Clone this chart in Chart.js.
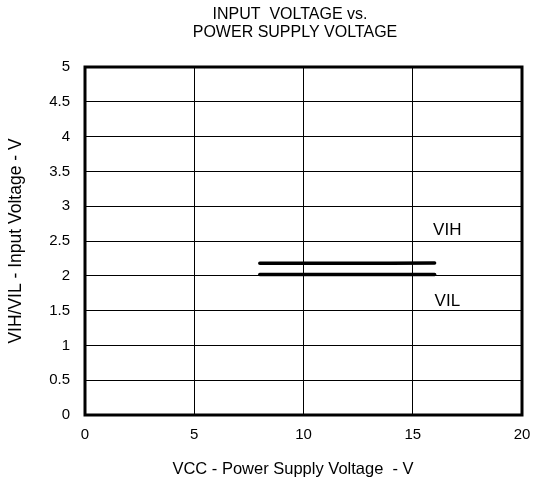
<!DOCTYPE html>
<html lang="en">
<head>
    <meta charset="UTF-8">
    <title>Input Voltage vs. Power Supply Voltage</title>
    <script src="https://cdn.jsdelivr.net/npm/chart.js"></script>
    <style>
        body {
            margin: 0;
            padding: 0;
            background: #fff;
        }
        .chart-wrapper {
            position: relative;
            width: 536px;
            height: 486px;
        }
    </style>
</head>
<body>
<div class="chart-wrapper">
    <canvas id="vihChart"></canvas>
</div>

<script>
    // supply voltage (V) and thresholds
    const vccValues = [8, 10, 12, 14, 16];
    const vihValues = [2.18, 2.18, 2.18, 2.18, 2.185];
    const vilValues = [2.02, 2.02, 2.02, 2.02, 2.02];

    const xTicks = [0, 5, 10, 15, 20];
    const yTicks = [0, 0.5, 1, 1.5, 2, 2.5, 3, 3.5, 4, 4.5, 5];

    const titleLines = ['INPUT  VOLTAGE vs.', 'POWER SUPPLY VOLTAGE'];
    const xTitle = 'VCC - Power Supply Voltage  - V';
    const seriesLabels = [
        { text: 'VIH', x: 15.93, y: 2.66 },
        { text: 'VIL', x: 16.0, y: 1.63 }
    ];

    const FONT = 'Arial, "Liberation Sans", sans-serif';

    // thick frame round the plot area, the titles and the series names
    const framePlugin = {
        id: 'frame',
        afterDraw(chart) {
            const { ctx, chartArea, scales } = chart;
            ctx.save();
            ctx.strokeStyle = '#000';
            ctx.lineWidth = 3;
            ctx.strokeRect(chartArea.left, chartArea.top,
                chartArea.right - chartArea.left, chartArea.bottom - chartArea.top);

            ctx.fillStyle = '#000';
            ctx.textBaseline = 'middle';

            ctx.font = '16px ' + FONT;
            ctx.textAlign = 'center';
            ctx.fillText(titleLines[0], 290, 15);
            ctx.fillText(titleLines[1], 295, 33);

            ctx.font = '16.5px ' + FONT;
            ctx.fillText(xTitle, 293, 469);

            ctx.font = '17px ' + FONT;
            ctx.textAlign = 'left';
            seriesLabels.forEach(l => {
                ctx.fillText(l.text, scales.x.getPixelForValue(l.x), scales.y.getPixelForValue(l.y));
            });
            ctx.restore();
        }
    };

    const lineStyle = {
        borderColor: '#000',
        borderWidth: 3.5,
        borderCapStyle: 'round',
        pointRadius: 0,
        tension: 0,
        fill: false
    };

    const config = {
        type: 'line',
        data: {
            datasets: [
                Object.assign({ label: 'VIH', data: vccValues.map((v, i) => ({ x: v, y: vihValues[i] })) }, lineStyle),
                Object.assign({ label: 'VIL', data: vccValues.map((v, i) => ({ x: v, y: vilValues[i] })) }, lineStyle)
            ]
        },
        options: {
            responsive: true,
            maintainAspectRatio: false,
            animation: false,
            layout: {
                padding: { left: 0, right: 14, top: 67, bottom: 0 }
            },
            plugins: {
                legend: { display: false },
                tooltip: { enabled: false },
                title: { display: false }
            },
            scales: {
                x: {
                    type: 'linear',
                    min: 0,
                    max: 20,
                    afterBuildTicks: axis => { axis.ticks = xTicks.map(v => ({ value: v })); },
                    afterFit: axis => {
                        axis.height = 71;
                        axis.paddingLeft = 0;
                        axis.paddingRight = 0;
                    },
                    ticks: { color: '#000', font: { family: FONT, size: 15 }, padding: 11 },
                    grid: { color: '#000', lineWidth: 1, drawTicks: false },
                    border: { display: false }
                },
                y: {
                    min: 0,
                    max: 5,
                    afterBuildTicks: axis => { axis.ticks = yTicks.map(v => ({ value: v })); },
                    afterFit: axis => {
                        axis.width = 85;
                        axis.paddingTop = 0;
                        axis.paddingBottom = 0;
                    },
                    ticks: {
                        color: '#000',
                        font: { family: FONT, size: 15 },
                        padding: 15,
                        callback: v => String(v)
                    },
                    grid: { color: '#000', lineWidth: 1, drawTicks: false },
                    border: { display: false },
                    title: {
                        display: true,
                        text: 'VIH/VIL - Input Voltage - V',
                        color: '#000',
                        font: { family: FONT, size: 17.5 },
                        padding: { top: 6, bottom: 6 }
                    }
                }
            }
        },
        plugins: [framePlugin]
    };

    const ctx = document.getElementById('vihChart').getContext('2d');
    new Chart(ctx, config);
</script>
</body>
</html>
